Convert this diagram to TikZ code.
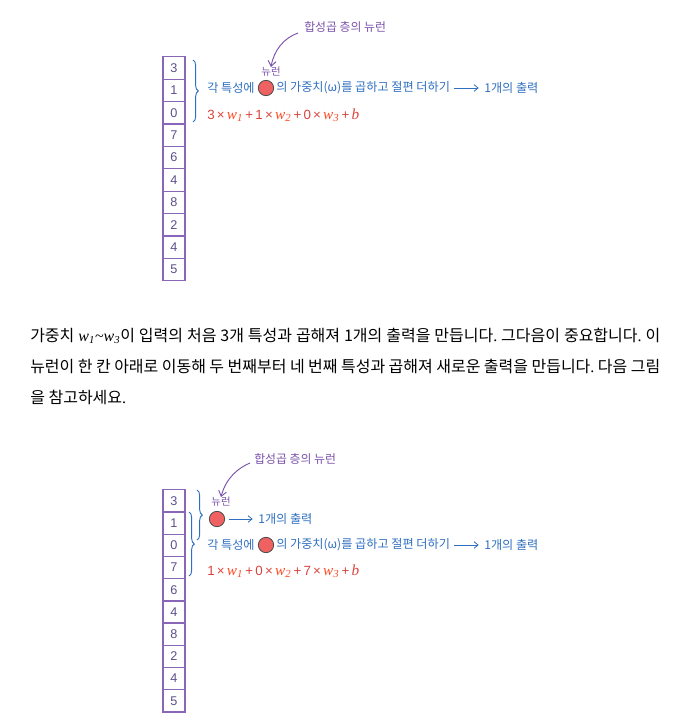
\documentclass[tikz,border=0pt]{standalone}
\usepackage{fontspec}
\setmainfont{Noto Sans CJK KR}
\newfontfamily\kr{Noto Sans CJK KR}
\newfontfamily\numf{Liberation Sans}
\newfontfamily\serf{Liberation Serif}
\usetikzlibrary{arrows.meta,decorations.pathreplacing}
\frenchspacing
\definecolor{kblue}{HTML}{2F6FC0}
\definecolor{kpurple}{HTML}{7A52AA}
\definecolor{cellc}{HTML}{8A66B8}
\definecolor{numc}{HTML}{5A4F8A}
\definecolor{redn}{HTML}{D9433B}
\definecolor{redw}{HTML}{FF4A25}
\definecolor{neur}{HTML}{F06262}
\newcommand\wv[1]{{\color{redw}\serf\itshape\fontsize{11.5}{12}\selectfont w\textsubscript{#1}}}
\newcommand\pw[1]{{\serf\itshape w\textsubscript{#1}}}
\newcommand\pd{{\serf.}}
\newcommand\fml[3]{{\numf\color{redn}#1\,×\,\wv{1}\,+\,#2\,×\,\wv{2}\,+\,#3\,×\,\wv{3}\,+\,{\serf\itshape\fontsize{11.5}{12}\selectfont b}}}
\tikzset{
  cell/.style={draw=cellc, line width=1pt, minimum width=16.5pt, minimum height=16.8pt, inner sep=0pt, font=\numf\fontsize{9.5}{10}\selectfont, text=numc},
  ann/.style={text=kblue, font=\kr\fontsize{9.1}{10}\selectfont, inner sep=0pt, anchor=west},
  ptxt/.style={text=kpurple, font=\kr\fontsize{8.9}{10}\selectfont, inner sep=0pt},
  neuron/.style={circle, fill=neur, draw=black!70, line width=0.6pt, minimum size=11.5pt, inner sep=0pt},
  outarr/.style={kblue, line width=0.6pt, -{Straight Barb[length=3pt,width=5pt]}, shorten <=3pt, shorten >=4pt},
  curarr/.style={kpurple, line width=0.7pt, -{Straight Barb[length=4pt,width=6pt]}},
  br/.style={kblue, line width=0.7pt, decorate, decoration={brace, amplitude=4pt}},
  para/.style={anchor=west, inner sep=0pt, font=\kr\fontsize{12}{13}\selectfont},
  fml/.style={anchor=west, inner sep=0pt, font=\numf\fontsize{10}{11}\selectfont}
}
\begin{document}
\begin{tikzpicture}[x=0.75pt,y=-0.75pt]
\useasboundingbox (0,0) rectangle (687,723);
% ---------- top diagram ----------
\foreach \v [count=\i] in {3,1,0,7,6,4,8,2,4,5}
  \node[cell] (a\i) at (174,{68+22.4*(\i-1)}) {\v};
\draw[br] (193,60) -- (193,122);
\node[ann] (t1) at (207,88) {각 특성에};
\node[neuron] (c1) at (266,88) {};
\node[ann] (t2) at (276,88) {의 가중치(ω)를 곱하고 절편 더하기};
\node[ann] (o1) at (484,88) {1개의 출력};
\draw[outarr] (t2) -- (o1);
\node[ptxt, font=\kr\fontsize{7.8}{9}\selectfont] (n1) at (271,72) {뉴런};
\node[ptxt, anchor=west] (h1) at (304,27) {합성곱 층의 뉴런};
\coordinate (h1s) at (298,33);
\draw[curarr] (h1s) .. controls (284,38) and (274,50) .. (n1.north);
\node[fml] (f1) at (207,115) {\fml{3}{1}{0}};
% ---------- paragraph ----------
\node[para] (p1) at (30,336) {\makebox[472.5pt][s]{가중치 \pw{1}{\serf\textasciitilde}\pw{3}이 입력의 처음 3개 특성과 곱해져 1개의 출력을 만듭니다\pd{} 그다음이 중요합니다\pd{} 이}};
\node[para] (p2) at (30,366) {\makebox[472.5pt][s]{뉴런이 한 칸 아래로 이동해 두 번째부터 네 번째 특성과 곱해져 새로운 출력을 만듭니다\pd{} 다음 그림}};
\node[para] (p3) at (30,397) {을 참고하세요\pd};
% ---------- bottom diagram ----------
\foreach \v [count=\i] in {3,1,0,7,6,4,8,2,4,5}
  \node[cell] (b\i) at (174,{501+22.2*(\i-1)}) {\v};
\draw[br] (197,490) -- (197,540);
\draw[br] (189,512) -- (189,576);
\node[ptxt, anchor=west] (h2) at (254,459) {합성곱 층의 뉴런};
\coordinate (h2s) at (250,463);
\node[ptxt, font=\kr\fontsize{7.8}{9}\selectfont] (n2) at (221,502) {뉴런};
\draw[curarr] (h2s) .. controls (238,468) and (226,478) .. (n2.north);
\node[neuron] (c2) at (217,519) {};
\node[ann] (o2) at (258,519) {1개의 출력};
\draw[outarr] (c2) -- (o2);
\node[ann] (t3) at (207,545) {각 특성에};
\node[neuron] (c3) at (266,545) {};
\node[ann] (t4) at (276,545) {의 가중치(ω)를 곱하고 절편 더하기};
\node[ann] (o3) at (484,545) {1개의 출력};
\draw[outarr] (t4) -- (o3);
\node[fml] (f2) at (207,571) {\fml{1}{0}{7}};
\end{tikzpicture}
\end{document}
